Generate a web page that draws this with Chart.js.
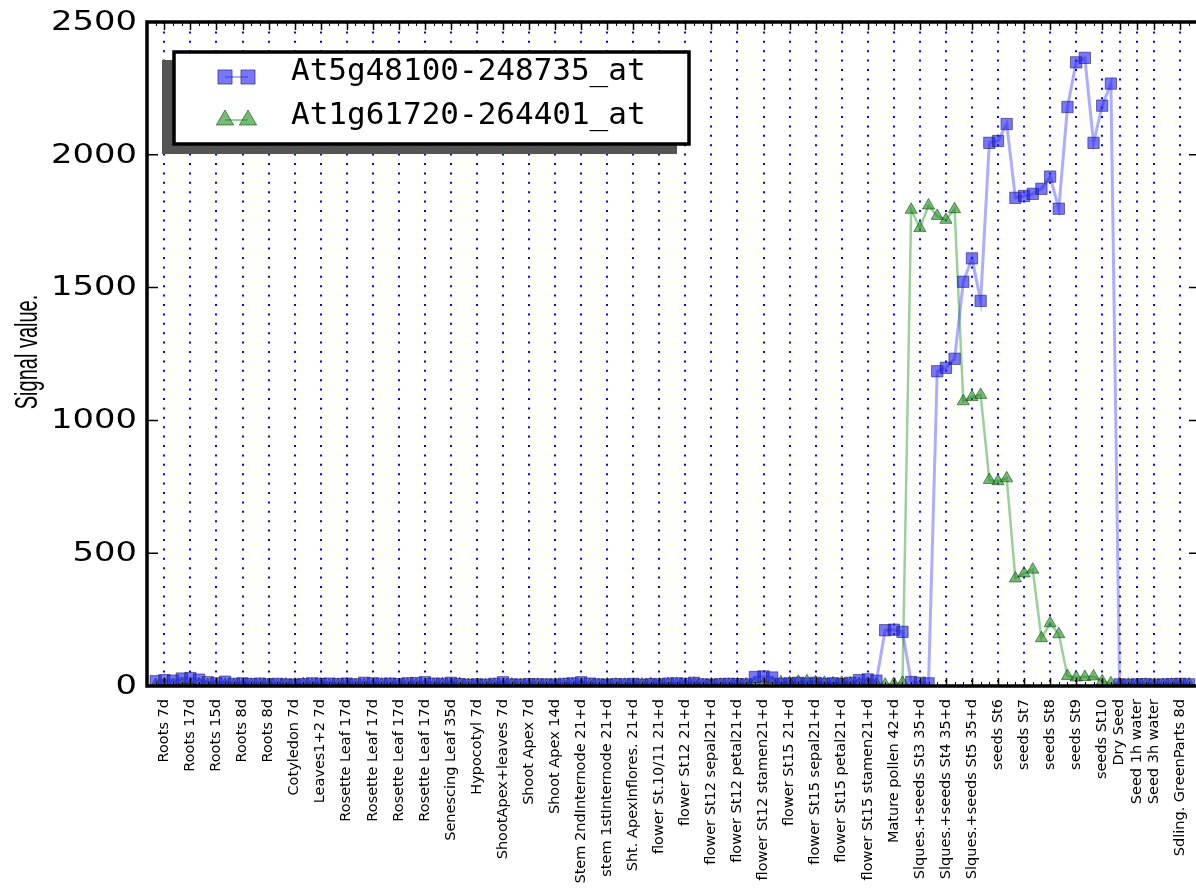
<!DOCTYPE html>
<html>
<head>
<meta charset="utf-8">
<script src="https://cdn.jsdelivr.net/npm/chart.js@4.4.1/dist/chart.umd.min.js"></script>
<style>
  body { margin: 0; background: #fff; }
  canvas { display: block; }
</style>
</head>
<body>
<canvas id="chart" width="1196" height="888"></canvas>
<script>
// one label per sample group (replicates share a label)
const groupLabels = [
  'Roots 7d', 'Roots 17d', 'Roots 15d', 'Roots 8d', 'Roots 8d', 'Cotyledon 7d', 'Leaves1+2 7d',
  'Rosette Leaf 17d', 'Rosette Leaf 17d', 'Rosette Leaf 17d', 'Rosette Leaf 17d', 'Senescing Leaf 35d',
  'Hypocotyl 7d', 'ShootApex+leaves 7d', 'Shoot Apex 7d', 'Shoot Apex 14d', 'Stem 2ndInternode 21+d',
  'stem 1stInternode 21+d', 'Sht. ApexInflores. 21+d', 'flower St.10/11 21+d', 'flower St12 21+d',
  'flower St12 sepal21+d', 'flower St12 petal21+d', 'flower St12 stamen21+d', 'flower St15 21+d',
  'flower St15 sepal21+d', 'flower St15 petal21+d', 'flower St15 stamen21+d', 'Mature pollen 42+d',
  'Slques.+seeds St3 35+d', 'Slques.+seeds St4 35+d', 'Slques.+seeds St5 35+d', 'seeds St6', 'seeds St7',
  'seeds St8', 'seeds St9', 'seeds St10', 'Dry Seed', 'Seed 1h water', 'Seed 3h water', 'Sdling. GreenParts 8d'
];
// sample index where each group label sits
const groupTicks = [
  1, 4, 7, 10, 13, 16, 19, 22, 25, 28, 31, 34, 37, 40, 43, 46, 49, 52, 55, 58, 61, 64, 67, 70, 73, 76,
  79, 82, 85, 88, 91, 94, 97, 100, 103, 106, 109, 111, 113, 115, 118
];

const seriesNames = ['At5g48100-248735_at', 'At1g61720-264401_at'];

const blueValues = [
  18, 22, 20, 28, 30, 24, 14, 10, 16, 8, 10, 7, 9, 6, 8, 6, 5, 7, 10, 8, 9, 7, 9, 6,
  12, 10, 8, 9, 7, 10, 11, 14, 9, 8, 12, 7, 5, 6, 5, 8, 14, 6, 5, 7, 6, 6, 5, 8,
  10, 14, 9, 6, 5, 7, 6, 8, 5, 7, 6, 9, 10, 8, 12, 6, 5, 7, 8, 7, 6, 34, 36, 32,
  8, 10, 12, 9, 12, 8, 10, 8, 12, 22, 25, 20, 210, 212, 204, 15, 12, 10,
  1185, 1198, 1232, 1522, 1610, 1450, 2045, 2052, 2116, 1838, 1845, 1853,
  1872, 1918, 1797, 2180, 2348, 2365, 2045, 2185, 2268,
  6, 5, 6, 7, 5, 6, 7, 8, 6
];
const greenValues = [
  4, 6, 5, 8, 5, 6, 3, 4, 5, 4, 3, 5, 5, 4, 3, 6, 5, 7, 4, 5, 3, 5, 6, 4,
  4, 3, 5, 6, 4, 5, 5, 3, 4, 7, 6, 8, 3, 4, 3, 5, 4, 6, 4, 3, 5, 3, 5, 4,
  6, 5, 4, 4, 6, 5, 5, 4, 6, 8, 6, 7, 6, 5, 8, 4, 6, 5, 5, 7, 6, 10, 8, 12,
  14, 12, 16, 18, 14, 12, 10, 12, 9, 8, 10, 7, 5, 8, 12, 1793, 1724, 1809,
  1770, 1755, 1795, 1072, 1088, 1096, 776, 771, 782, 405, 424, 438,
  180, 236, 195, 38, 32, 34, 36, 18, 10,
  6, 5, 4, 5, 3, 4, 5, 4, 6
];
const yTicks = [0, 500, 1000, 1500, 2000, 2500];
const yTitle = 'Signal value.';

const toPoints = vals => vals.map((v, i) => ({ x: i, y: v }));

// frame, inward tick marks, wide y labels and the boxed legend
const framePlugin = {
  id: 'frame',
  afterDatasetsDraw(chart) {
    const ctx = chart.ctx;
    const { left, right, top, bottom } = chart.chartArea;
    const xs = chart.scales.x, ys = chart.scales.y;
    ctx.save();
    ctx.strokeStyle = '#000';
    for (let i = 0; i < blueValues.length; i++) {
      const px = Math.round(xs.getPixelForValue(i)) + 0.5;
      const major = groupTicks.includes(i);
      const len = major ? 8 : 4;
      ctx.lineWidth = major ? 1.5 : 1;
      ctx.beginPath();
      ctx.moveTo(px, top); ctx.lineTo(px, top + len);
      ctx.moveTo(px, bottom); ctx.lineTo(px, bottom - len);
      ctx.stroke();
    }
    ctx.lineWidth = 1.5;
    yTicks.forEach(v => {
      const py = ys.getPixelForValue(v);
      ctx.beginPath();
      ctx.moveTo(left, py); ctx.lineTo(left + 11, py);
      ctx.moveTo(right, py); ctx.lineTo(right - 7, py);
      ctx.stroke();
    });
    ctx.lineWidth = 3.5;
    ctx.beginPath();
    ctx.moveTo(right + 2, top);
    ctx.lineTo(left, top);
    ctx.lineTo(left, bottom);
    ctx.lineTo(right + 2, bottom);
    ctx.stroke();
    ctx.restore();
  },
  afterDraw(chart) {
    const ctx = chart.ctx;
    const ys = chart.scales.y;
    const { top, bottom } = chart.chartArea;
    ctx.save();
    ctx.fillStyle = '#000';
    // wide y tick labels
    ctx.font = '26px "DejaVu Sans"';
    ctx.textAlign = 'right';
    ctx.textBaseline = 'middle';
    yTicks.forEach(v => {
      ctx.save();
      ctx.translate(137, ys.getPixelForValue(v) + 1);
      ctx.scale(1.3, 1);
      ctx.fillText(String(v), 0, 0);
      ctx.restore();
    });

    // y axis title, stretched like the source
    ctx.save();
    ctx.translate(28, (top + bottom) / 2 - 2);
    ctx.rotate(-Math.PI / 2);
    ctx.scale(1, 1.6);
    ctx.font = '20px "Liberation Sans"';
    ctx.textAlign = 'center';
    ctx.textBaseline = 'middle';
    ctx.fillText(yTitle, 0, 0);
    ctx.restore();

    // legend box with shadow
    const bx = 174, by = 52, bw = 515, bh = 92;
    ctx.fillStyle = '#555';
    ctx.fillRect(bx - 12, by + 8, bw, bh + 2);
    ctx.fillStyle = '#fff';
    ctx.fillRect(bx, by, bw, bh);
    ctx.lineWidth = 3.5;
    ctx.strokeStyle = '#000';
    ctx.strokeRect(bx, by, bw, bh);

    chart.data.datasets.forEach((ds, i) => {
      const cy = 77 + i * 43;
      ctx.strokeStyle = ds.borderColor;
      ctx.lineWidth = 2;
      ctx.beginPath();
      ctx.moveTo(225, cy); ctx.lineTo(248, cy);
      ctx.stroke();
      ctx.fillStyle = ds.pointBackgroundColor;
      ctx.strokeStyle = ds.pointBorderColor;
      ctx.lineWidth = 1;
      [225, 248].forEach(mx => {
        Chart.helpers.drawPoint(ctx, { pointStyle: ds.pointStyle, radius: 10, rotation: 0, borderWidth: 1 }, mx, cy);
      });
      ctx.fillStyle = '#000';
      ctx.font = '31px "DejaVu Sans Mono"';
      ctx.textAlign = 'left';
      ctx.textBaseline = 'alphabetic';
      ctx.fillText(ds.label, 291, cy + 3 + (i === 0 ? 0 : 1));
    });
    ctx.restore();
  }
};

new Chart(document.getElementById('chart'), {
  type: 'line',
  data: {
    datasets: [
      {
        label: seriesNames[0],
        data: toPoints(blueValues),
        borderColor: 'rgba(40, 40, 255, 0.38)',
        borderWidth: 3,
        pointStyle: 'rect',
        pointRadius: 8,
        pointBackgroundColor: 'rgba(30, 30, 240, 0.6)',
        pointBorderColor: 'rgba(20, 20, 90, 0.55)',
        pointBorderWidth: 1,
        tension: 0
      },
      {
        label: seriesNames[1],
        data: toPoints(greenValues),
        borderColor: 'rgba(30, 150, 30, 0.45)',
        borderWidth: 2.5,
        pointStyle: 'triangle',
        pointRadius: 7,
        pointBackgroundColor: 'rgba(30, 140, 30, 0.6)',
        pointBorderColor: 'rgba(10, 60, 10, 0.55)',
        pointBorderWidth: 1,
        tension: 0
      }
    ]
  },
  options: {
    responsive: false,
    animation: false,
    devicePixelRatio: 1,
    layout: { autoPadding: false, padding: { top: 22, right: 0, left: 0, bottom: 0 } },
    plugins: {
      legend: { display: false },
      tooltip: { enabled: false }
    },
    scales: {
      x: {
        type: 'linear',
        min: -1,
        max: 119.8,
        afterBuildTicks: scale => { scale.ticks = groupTicks.map(v => ({ value: v })); },
        afterFit: scale => {
          scale.height = 202;
          scale.paddingLeft = 0;
          scale.paddingRight = 0;
        },
        ticks: {
          autoSkip: false,
          maxRotation: 90,
          minRotation: 90,
          padding: 13,
          color: '#000',
          font: { family: 'DejaVu Sans', size: 14.5 },
          callback: (value, index) => groupLabels[index]
        },
        grid: { color: '#0000ff', lineWidth: 2, drawTicks: false },
        border: { display: false, dash: [2, 7.4] }
      },
      y: {
        min: 0,
        max: 2500,
        afterBuildTicks: scale => { scale.ticks = yTicks.map(v => ({ value: v })); },
        afterFit: scale => { scale.width = 147; },
        ticks: { display: false },
        grid: { display: false },
        border: { display: false }
      }
    }
  },
  plugins: [framePlugin]
});
</script>
</body>
</html>
